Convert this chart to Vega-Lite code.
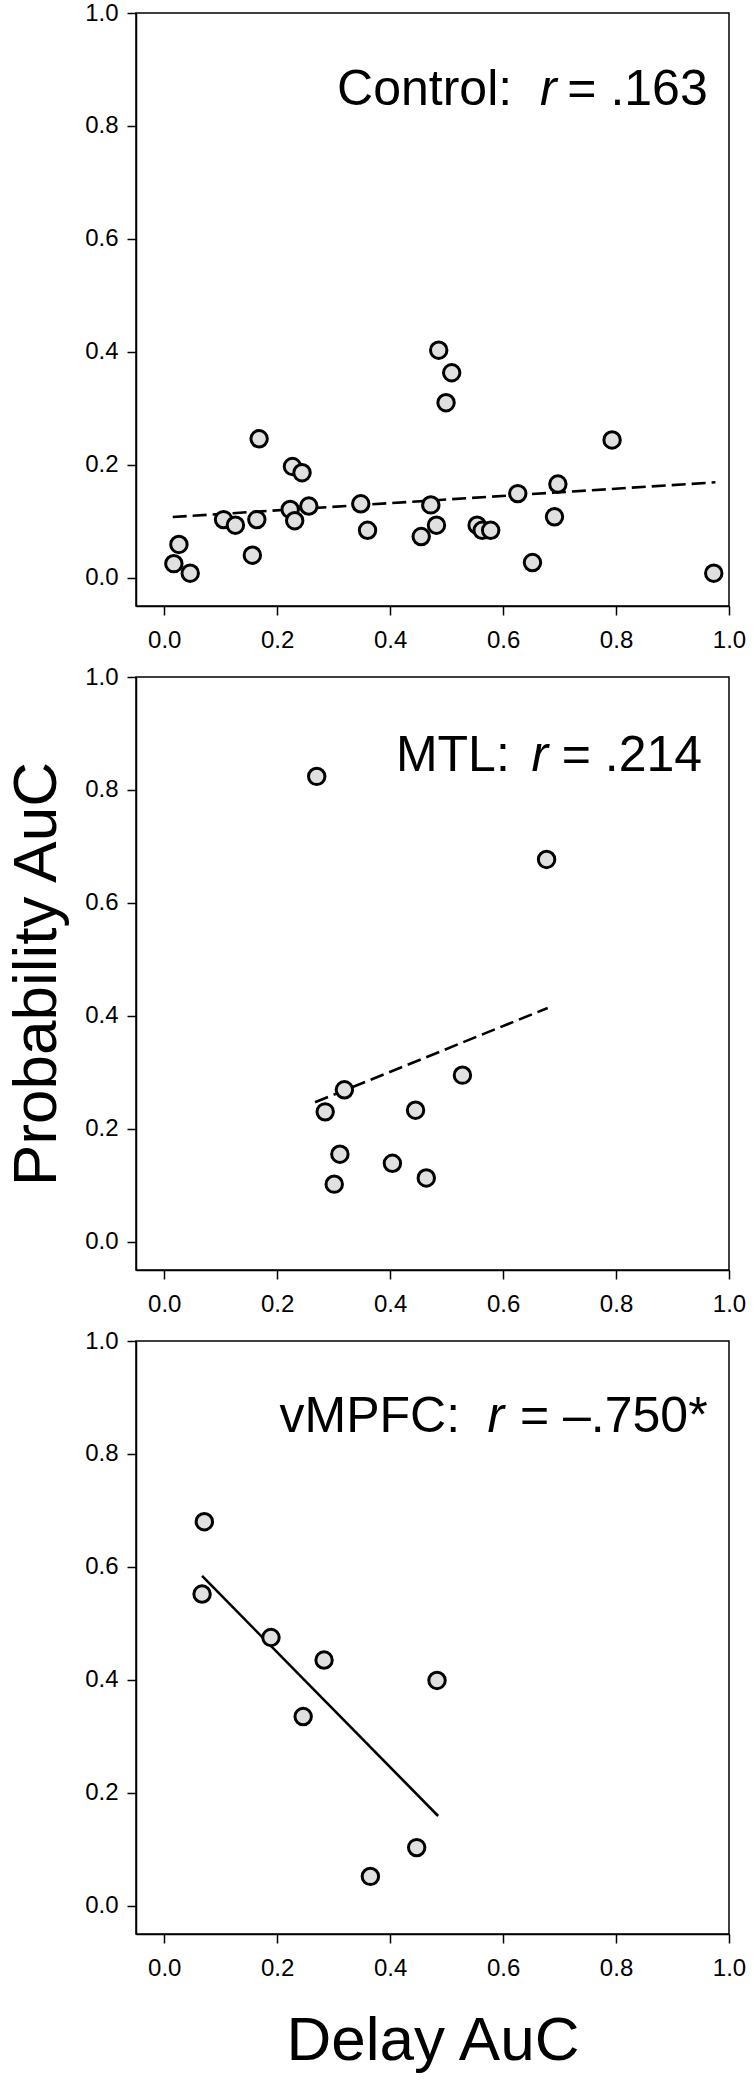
{
  "$schema": "https://vega.github.io/schema/vega-lite/v6.json",
  "background": "white",
  "padding": {"left": 4, "top": 0, "right": 5, "bottom": 5},
  "bounds": "flush",
  "spacing": 71,
  "config": {
    "view": {"stroke": "black", "strokeWidth": 1.5},
    "axis": {
      "grid": false,
      "domainColor": "black",
      "domainWidth": 1.5,
      "tickColor": "black",
      "tickWidth": 1.5,
      "tickSize": 9,
      "labelFont": "Liberation Sans",
      "labelFontSize": 24,
      "labelColor": "black",
      "labelFlush": false,
      "labelOverlap": false,
      "titleFont": "Liberation Sans",
      "titleFontSize": 62,
      "titleFontWeight": "normal",
      "titleColor": "black"
    },
    "axisX": {"labelPadding": 13},
    "axisY": {"labelPadding": 9},
    "text": {"font": "Liberation Sans", "fontSize": 50, "color": "black", "align": "center", "baseline": "alphabetic"}
  },
  "datasets": {
    "control": [
      {"delay": 0.017, "prob": 0.025},
      {"delay": 0.026, "prob": 0.059},
      {"delay": 0.046, "prob": 0.008},
      {"delay": 0.105, "prob": 0.103},
      {"delay": 0.126, "prob": 0.093},
      {"delay": 0.156, "prob": 0.040},
      {"delay": 0.164, "prob": 0.103},
      {"delay": 0.168, "prob": 0.246},
      {"delay": 0.227, "prob": 0.197},
      {"delay": 0.244, "prob": 0.186},
      {"delay": 0.223, "prob": 0.121},
      {"delay": 0.231, "prob": 0.101},
      {"delay": 0.256, "prob": 0.127},
      {"delay": 0.348, "prob": 0.131},
      {"delay": 0.360, "prob": 0.084},
      {"delay": 0.455, "prob": 0.073},
      {"delay": 0.472, "prob": 0.129},
      {"delay": 0.482, "prob": 0.093},
      {"delay": 0.486, "prob": 0.403},
      {"delay": 0.509, "prob": 0.363},
      {"delay": 0.499, "prob": 0.310},
      {"delay": 0.554, "prob": 0.093},
      {"delay": 0.563, "prob": 0.084},
      {"delay": 0.578, "prob": 0.084},
      {"delay": 0.626, "prob": 0.149},
      {"delay": 0.652, "prob": 0.027},
      {"delay": 0.691, "prob": 0.108},
      {"delay": 0.697, "prob": 0.166},
      {"delay": 0.793, "prob": 0.244},
      {"delay": 0.973, "prob": 0.008}
    ],
    "control_fit": [
      {"delay": 0.015, "prob": 0.1075},
      {"delay": 0.976, "prob": 0.169}
    ],
    "mtl": [
      {"delay": 0.270, "prob": 0.824},
      {"delay": 0.677, "prob": 0.677},
      {"delay": 0.528, "prob": 0.295},
      {"delay": 0.319, "prob": 0.269},
      {"delay": 0.285, "prob": 0.230},
      {"delay": 0.445, "prob": 0.233},
      {"delay": 0.311, "prob": 0.155},
      {"delay": 0.404, "prob": 0.139},
      {"delay": 0.464, "prob": 0.113},
      {"delay": 0.301, "prob": 0.102}
    ],
    "mtl_fit": [
      {"delay": 0.267, "prob": 0.247},
      {"delay": 0.679, "prob": 0.414}
    ],
    "vmpfc": [
      {"delay": 0.071, "prob": 0.680},
      {"delay": 0.067, "prob": 0.552},
      {"delay": 0.189, "prob": 0.475},
      {"delay": 0.283, "prob": 0.435},
      {"delay": 0.246, "prob": 0.335},
      {"delay": 0.483, "prob": 0.399},
      {"delay": 0.447, "prob": 0.103},
      {"delay": 0.365, "prob": 0.052}
    ],
    "vmpfc_fit": [
      {"delay": 0.067, "prob": 0.584},
      {"delay": 0.485, "prob": 0.159}
    ]
  },
  "vconcat": [
    {
      "width": 593,
      "height": 593,
      "layer": [
        {
          "data": {"name": "control_fit"},
          "mark": {"type": "line", "color": "black", "strokeWidth": 2.6, "strokeDash": [14, 6]},
          "encoding": {
            "x": {"field": "delay", "type": "quantitative", "scale": {"domain": [-0.05, 1], "nice": false, "zero": false}, "axis": {"title": null, "values": [0, 0.2, 0.4, 0.6, 0.8, 1], "format": ".1f"}},
            "y": {"field": "prob", "type": "quantitative", "scale": {"domain": [-0.05, 1], "nice": false, "zero": false}, "axis": {"title": null, "values": [0, 0.2, 0.4, 0.6, 0.8, 1], "format": ".1f"}}
          }
        },
        {
          "data": {"name": "control"},
          "mark": {"type": "circle", "fill": "#e0e0e0", "stroke": "black", "strokeWidth": 3, "size": 270, "opacity": 1},
          "encoding": {
            "x": {"field": "delay", "type": "quantitative"},
            "y": {"field": "prob", "type": "quantitative"}
          }
        },
        {
          "data": {"values": [{}]},
          "mark": {"type": "text", "text": "Control:"},
          "encoding": {"x": {"datum": 0.461, "type": "quantitative", "title": null}, "y": {"datum": 0.837, "type": "quantitative", "title": null}}
        },
        {
          "data": {"values": [{}]},
          "mark": {"type": "text", "text": "r", "fontStyle": "italic"},
          "encoding": {"x": {"datum": 0.680, "type": "quantitative", "title": null}, "y": {"datum": 0.837, "type": "quantitative", "title": null}}
        },
        {
          "data": {"values": [{}]},
          "mark": {"type": "text", "text": "= .163"},
          "encoding": {"x": {"datum": 0.838, "type": "quantitative", "title": null}, "y": {"datum": 0.837, "type": "quantitative", "title": null}}
        }
      ]
    },
    {
      "width": 593,
      "height": 593,
      "layer": [
        {
          "data": {"name": "mtl_fit"},
          "mark": {"type": "line", "color": "black", "strokeWidth": 2.6, "strokeDash": [14, 6]},
          "encoding": {
            "x": {"field": "delay", "type": "quantitative", "scale": {"domain": [-0.05, 1], "nice": false, "zero": false}, "axis": {"title": null, "values": [0, 0.2, 0.4, 0.6, 0.8, 1], "format": ".1f"}},
            "y": {"field": "prob", "type": "quantitative", "scale": {"domain": [-0.05, 1], "nice": false, "zero": false}, "axis": {"title": "Probability AuC", "titlePadding": 16, "values": [0, 0.2, 0.4, 0.6, 0.8, 1], "format": ".1f"}}
          }
        },
        {
          "data": {"name": "mtl"},
          "mark": {"type": "circle", "fill": "#e0e0e0", "stroke": "black", "strokeWidth": 3, "size": 270, "opacity": 1},
          "encoding": {
            "x": {"field": "delay", "type": "quantitative"},
            "y": {"field": "prob", "type": "quantitative"}
          }
        },
        {
          "data": {"values": [{}]},
          "mark": {"type": "text", "text": "MTL:"},
          "encoding": {"x": {"datum": 0.511, "type": "quantitative", "title": null}, "y": {"datum": 0.834, "type": "quantitative", "title": null}}
        },
        {
          "data": {"values": [{}]},
          "mark": {"type": "text", "text": "r", "fontStyle": "italic"},
          "encoding": {"x": {"datum": 0.665, "type": "quantitative", "title": null}, "y": {"datum": 0.834, "type": "quantitative", "title": null}}
        },
        {
          "data": {"values": [{}]},
          "mark": {"type": "text", "text": "= .214"},
          "encoding": {"x": {"datum": 0.828, "type": "quantitative", "title": null}, "y": {"datum": 0.834, "type": "quantitative", "title": null}}
        }
      ]
    },
    {
      "width": 593,
      "height": 593,
      "layer": [
        {
          "data": {"name": "vmpfc_fit"},
          "mark": {"type": "line", "color": "black", "strokeWidth": 2.6},
          "encoding": {
            "x": {"field": "delay", "type": "quantitative", "scale": {"domain": [-0.05, 1], "nice": false, "zero": false}, "axis": {"title": "Delay AuC", "titlePadding": 30, "values": [0, 0.2, 0.4, 0.6, 0.8, 1], "format": ".1f"}},
            "y": {"field": "prob", "type": "quantitative", "scale": {"domain": [-0.05, 1], "nice": false, "zero": false}, "axis": {"title": null, "values": [0, 0.2, 0.4, 0.6, 0.8, 1], "format": ".1f"}}
          }
        },
        {
          "data": {"name": "vmpfc"},
          "mark": {"type": "circle", "fill": "#e0e0e0", "stroke": "black", "strokeWidth": 3, "size": 270, "opacity": 1},
          "encoding": {
            "x": {"field": "delay", "type": "quantitative"},
            "y": {"field": "prob", "type": "quantitative"}
          }
        },
        {
          "data": {"values": [{}]},
          "mark": {"type": "text", "text": "vMPFC:"},
          "encoding": {"x": {"datum": 0.364, "type": "quantitative", "title": null}, "y": {"datum": 0.838, "type": "quantitative", "title": null}}
        },
        {
          "data": {"values": [{}]},
          "mark": {"type": "text", "text": "r", "fontStyle": "italic"},
          "encoding": {"x": {"datum": 0.587, "type": "quantitative", "title": null}, "y": {"datum": 0.838, "type": "quantitative", "title": null}}
        },
        {
          "data": {"values": [{}]},
          "mark": {"type": "text", "text": "= –.750*"},
          "encoding": {"x": {"datum": 0.796, "type": "quantitative", "title": null}, "y": {"datum": 0.838, "type": "quantitative", "title": null}}
        }
      ]
    }
  ]
}
